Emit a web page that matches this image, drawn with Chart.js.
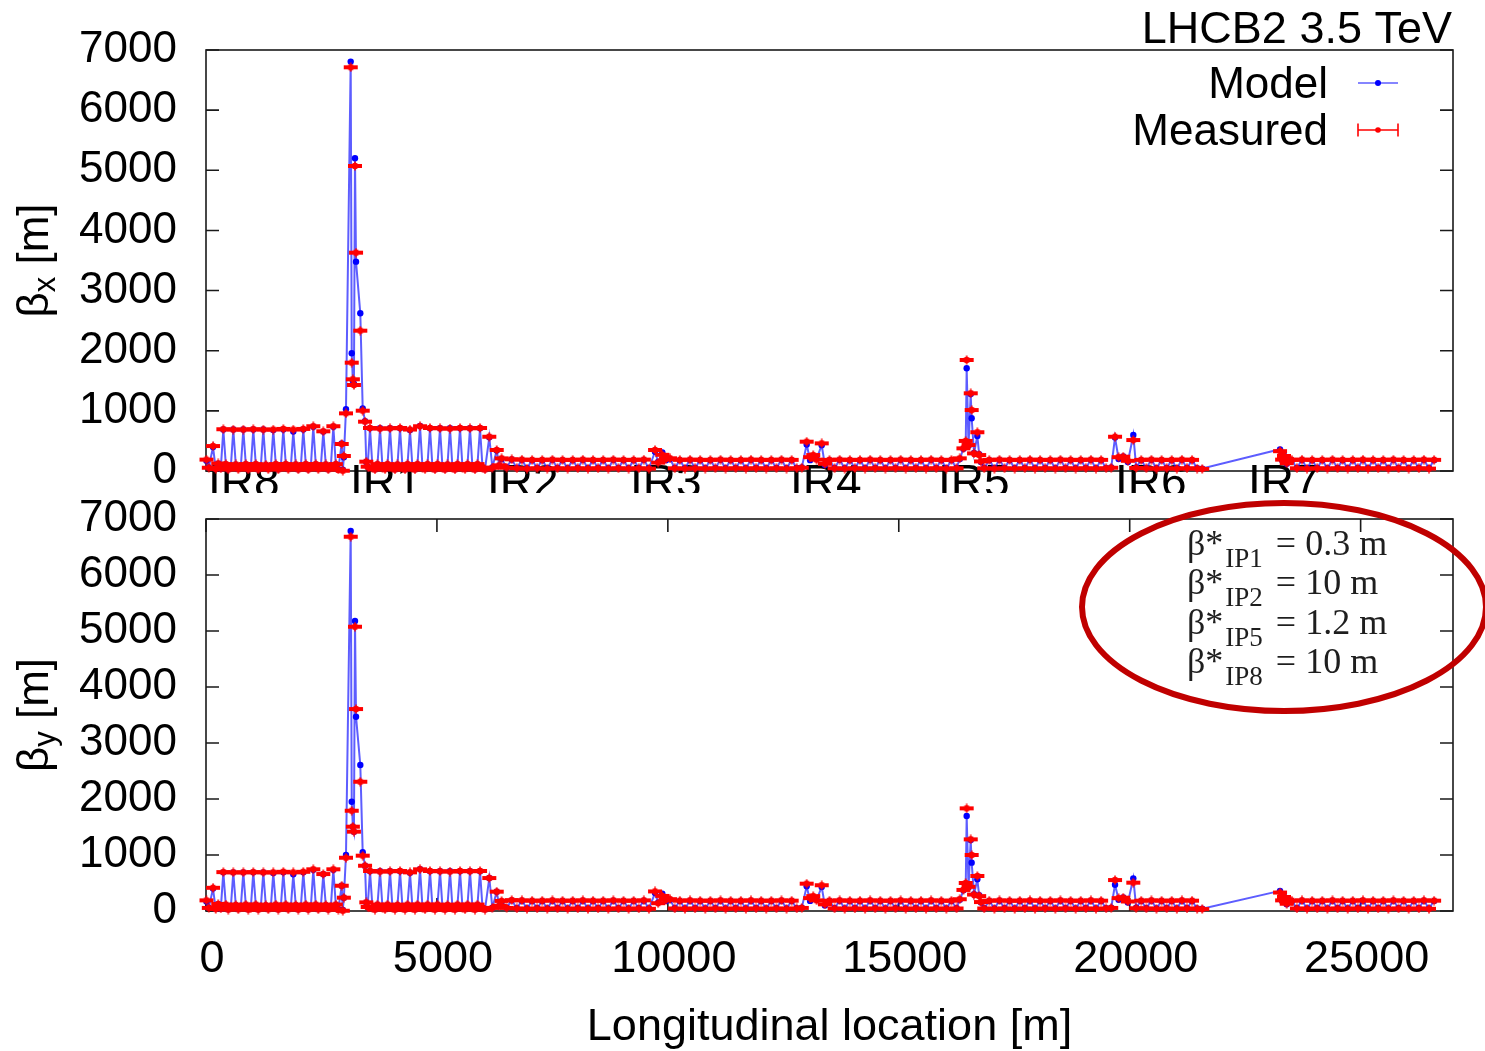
<!DOCTYPE html>
<html><head><meta charset="utf-8">
<script src="https://cdn.jsdelivr.net/npm/chart.js@4.4.0/dist/chart.umd.min.js"></script>
<style>
html,body{margin:0;padding:0;background:#fff;width:1485px;height:1051px;overflow:hidden}
canvas{position:absolute;left:0}
#top{top:0}#bot{top:493px}
</style></head><body>
<canvas id="top" width="1485" height="493"></canvas>
<canvas id="bot" width="1485" height="558"></canvas>
<script>
// ---------------- data ----------------
const titleText = 'LHCB2 3.5 TeV';
const legendLabels = ['Model', 'Measured'];
const xTitle = 'Longitudinal location [m]';
const xTicks = [0, 5000, 10000, 15000, 20000, 25000];
const yTicks = [0, 1000, 2000, 3000, 4000, 5000, 6000, 7000];
const irNames = ['IR8', 'IR1', 'IR2', 'IR3', 'IR4', 'IR5', 'IR6', 'IR7'];
const irPos = [43, 3118, 6086, 9180, 12645, 15850, 19683, 22563];
const ipNames = ['IP1', 'IP2', 'IP5', 'IP8'];
const ipBetaStar = ['0.3 m', '10 m', '1.2 m', '10 m'];

// BPM longitudinal positions [m]
const s = [
10,60,152,210,265,320,
375,429,483,537,591,645,699,753,808,862,916,970,
1024,1078,1132,1186,1241,1295,1349,1403,1457,1511,1565,1619,
1674,1728,1782,1836,1890,1944,1998,2052,2107,2161,2215,2269,
2323,2377,2431,2485,2540,2594,2648,2702,2757,2811,2865,
2938,2962,2985,3031,3133,3155,3180,3203,3226,3248,3341,3393,3443,3470,3500,
3551,3605,3659,3713,3768,3822,3876,3930,3984,4038,4092,4146,
4201,4255,4309,4363,4417,4471,4525,4579,4634,4688,4742,4796,
4850,4904,4958,5012,5067,5121,5175,5229,5283,5337,5391,5445,
5500,5554,5608,5662,5716,5770,5824,5878,5933,5987,6041,6134,6200,6294,6350,
6400,6510,6620,6730,6840,6950,7060,7170,7280,7390,
7500,7610,7720,7830,7940,8050,8160,8270,8380,8490,
8600,8710,8820,8930,9040,9150,9260,9370,9480,9590,
9722,9790,9880,9960,10046,
10150,10260,10370,10480,10590,10700,10810,10920,11030,11140,
11250,11360,11470,11580,11690,11800,11910,12020,12130,12240,
12350,12460,12570,12680,12790,12900,
13006,13080,13148,13220,13331,13400,
13500,13610,13720,13830,13940,14050,14160,14270,14380,14490,
14600,14710,14820,14930,15040,15150,15260,15370,15480,15590,
15700,15810,15920,16030,16140,16250,
16320,16400,16450,16470,16510,16557,16578,16630,16701,16740,16780,
16850,16960,17070,17180,17290,17400,17510,17620,17730,17840,
17950,18060,18170,18280,18390,18500,18610,18720,18830,18940,
19050,19160,19270,19380,19490,19600,
19682,19760,19860,19960,20078,20140,
20250,20360,20470,20580,20690,20800,20910,21020,21130,21240,21350,21460,21570,
23255,23300,23340,23400,
23510,23620,23730,23840,23950,24060,24170,24280,24390,24500,
24610,24720,24830,24940,25050,25160,25270,25380,25490,25600,
25710,25820,25930,26040,26150,26260,26370,26480,26590
];

const betxModel = [
170,60,400,40,120,40,
690,110,30,60,690,105,35,60,690,110,30,55,
690,110,30,60,690,100,35,60,680,110,30,60,
690,110,35,60,655,105,30,60,690,110,30,60,
735,110,35,60,655,105,30,60,735,110,30,
460,20,230,1026,6807,1957,1500,1450,5200,3481,2622,1042,830,150,70,
710,60,30,110,710,60,35,110,710,60,30,105,
710,60,30,110,682,55,30,110,748,60,35,110,
710,60,30,110,710,60,30,105,710,55,30,110,
710,60,35,110,710,60,30,110,710,60,30,560,60,340,90,
200,60,190,50,185,45,180,50,180,45,
185,50,180,45,180,50,185,45,180,50,
180,45,185,50,180,45,180,50,185,45,
320,150,310,180,200,
50,180,45,185,50,180,45,180,50,185,
45,180,50,180,45,185,50,180,45,180,
50,185,45,180,50,60,
440,180,250,200,430,100,
180,50,185,45,180,50,180,45,185,50,
180,45,180,50,185,45,180,50,180,45,
185,50,180,45,180,50,
200,370,480,1708,420,1280,876,300,582,280,150,
50,180,45,185,50,180,45,180,50,185,
45,180,50,180,45,185,50,180,45,180,
50,185,45,180,50,60,
555,200,240,150,599,60,
180,50,185,45,180,50,180,45,185,50,180,45,40,
360,180,260,120,
180,50,185,45,180,50,180,45,185,50,
180,45,180,50,185,45,180,50,180,45,
185,50,180,45,180,50,185,45,180
];

const betxMeas = [
190,55,415,35,125,45,
695,115,25,65,690,110,30,65,690,115,25,60,
695,115,25,65,690,105,30,65,690,115,25,65,
700,115,30,65,690,110,25,65,700,115,25,65,
745,115,30,65,660,110,25,65,745,115,25,
449,5,250,959,6713,1801,1525,1430,5072,3630,2333,1003,820,155,72,
715,55,25,115,705,55,30,115,710,55,25,110,
715,55,25,115,690,50,25,115,745,55,30,115,
715,55,25,115,710,55,25,110,705,50,25,115,
715,55,30,115,710,55,25,115,715,55,25,570,55,350,95,
210,55,195,45,190,40,185,45,185,40,
190,45,185,40,185,45,190,40,185,45,
185,40,190,45,185,40,185,45,190,40,
350,140,270,200,211,
45,185,40,190,45,185,40,185,45,190,
40,185,45,185,40,190,45,185,40,185,
45,190,40,185,45,55,
488,230,266,190,460,120,
185,45,190,40,185,45,185,40,190,45,
185,40,185,45,190,40,185,45,185,40,
190,45,185,40,185,45,
210,377,500,1846,432,1292,1014,294,645,266,160,
45,185,40,190,45,185,40,185,45,190,
40,185,45,185,40,190,45,185,40,185,
45,190,40,185,45,55,
570,230,238,170,515,50,
185,45,190,40,185,45,185,40,190,45,185,40,35,
330,190,250,130,
185,45,190,40,185,45,185,40,190,45,
185,40,185,45,190,40,185,45,185,40,
190,45,185,40,185,45,190,40,185
];

const betyModel = [
170,60,400,40,120,40,
690,110,30,60,690,105,35,60,690,110,30,55,
690,110,30,60,690,100,35,60,680,110,30,60,
690,110,35,60,655,105,30,60,690,110,30,60,
735,110,35,60,655,105,30,60,735,110,30,
452,20,238,1000,6786,1952,1506,1417,5179,3470,2607,1048,809,150,70,
710,60,30,110,710,60,35,110,710,60,30,105,
710,60,30,110,682,55,30,110,748,60,35,110,
710,60,30,110,710,60,30,105,710,55,30,110,
710,60,35,110,710,60,30,110,710,60,30,589,60,345,90,
170,60,190,50,185,45,180,50,180,45,
185,50,180,45,180,50,185,45,180,50,
180,45,185,50,180,45,180,50,185,45,
320,150,310,180,200,
50,180,45,185,50,180,45,180,50,185,
45,180,50,180,45,185,50,180,45,180,
50,185,45,180,50,60,
440,180,250,200,430,100,
180,50,185,45,180,50,180,45,185,50,
180,45,180,50,185,45,180,50,180,45,
185,50,180,45,180,50,
200,370,480,1696,420,1270,863,300,566,280,150,
50,180,45,185,50,180,45,180,50,185,
45,180,50,180,45,185,50,180,45,180,
50,185,45,180,50,60,
470,200,240,150,583,60,
180,50,185,45,180,50,180,45,185,50,180,45,40,
360,180,260,120,
180,50,185,45,180,50,180,45,185,50,
180,45,180,50,185,45,180,50,180,45,
185,50,180,45,180,50,185,45,180
];

const betyMeas = [
190,55,415,35,125,45,
695,115,25,65,690,110,30,65,690,115,25,60,
695,115,25,65,690,105,30,65,690,115,25,65,
700,115,30,65,690,110,25,65,700,115,25,65,
745,115,30,65,660,110,25,65,745,115,25,
452,5,238,952,6684,1791,1506,1417,5077,3607,2309,988,809,155,72,
715,55,25,115,705,55,30,115,710,55,25,110,
715,55,25,115,690,50,25,115,745,55,30,115,
715,55,25,115,710,55,25,110,705,50,25,115,
715,55,30,115,710,55,25,115,715,55,25,589,55,345,95,
180,55,195,45,190,40,185,45,185,40,
190,45,185,40,185,45,190,40,185,45,
185,40,190,45,185,40,185,45,190,40,
350,140,270,200,211,
45,185,40,190,45,185,40,185,45,190,
40,185,45,185,40,190,45,185,40,185,
45,190,40,185,45,55,
488,230,266,190,460,120,
185,45,190,40,185,45,185,40,190,45,
185,40,185,45,190,40,185,45,185,40,
190,45,185,40,185,45,
210,377,500,1833,432,1280,1000,294,625,266,160,
45,185,40,190,45,185,40,185,45,190,
40,185,45,185,40,190,45,185,40,185,
45,190,40,185,45,55,
553,230,238,170,506,50,
185,45,190,40,185,45,185,40,190,45,185,40,35,
330,190,250,130,
185,45,190,40,185,45,185,40,190,45,
185,40,185,45,190,40,185,45,185,40,
190,45,185,40,185,45,190,40,185
];

[betxModel, betxMeas, betyModel, betyMeas].forEach((a, i) => {
  if (a.length !== s.length) throw new Error('array ' + i + ' length ' + a.length + ' != ' + s.length);
});

// ---------------- drawing ----------------
const FONT = '"Liberation Sans", Arial, sans-serif';
const SERIF = '"Liberation Serif", "Times New Roman", serif';
Chart.defaults.font.family = FONT;
Chart.defaults.color = '#000';

const MODEL_LINE = 'rgba(30,30,255,0.72)';
const MODEL_DOT = '#0000ff';
const MEAS = '#ff0000';

function toPts(xs, ys) { return xs.map((x, i) => ({x: x, y: ys[i]})); }

function errMarker() {
  const c = document.createElement('canvas');
  c.width = 16; c.height = 10;
  const g = c.getContext('2d');
  g.fillStyle = MEAS;
  g.fillRect(1, 3, 14, 4);
  g.beginPath(); g.arc(8, 5, 3.3, 0, Math.PI * 2); g.fill();
  g.strokeStyle = MEAS; g.lineWidth = 1.5;
  g.beginPath(); g.moveTo(8, 0.5); g.lineTo(8, 9.5); g.stroke();
  return c;
}
const ERR = errMarker();

function datasets(model, meas) {
  return [
    {label: legendLabels[1], data: toPts(s, meas), showLine: false, pointStyle: ERR,
     pointRadius: 7, clip: false},
    {label: legendLabels[0], data: toPts(s, model), showLine: true, borderColor: MODEL_LINE,
     borderWidth: 2, tension: 0, pointRadius: 3.2, pointBackgroundColor: MODEL_DOT,
     pointBorderColor: MODEL_DOT, pointBorderWidth: 0, clip: false}
  ];
}

function scales(xHeight, showX) {
  return {
    x: {type: 'linear', min: 0, max: 27000, grid: {display: false, drawTicks: false}, border: {display: false},
        afterBuildTicks: sc => { sc.ticks = xTicks.map(v => ({value: v})); },
        ticks: {display: showX, font: {size: 45}, padding: 22, labelOffset: 6, color: '#000',
                maxRotation: 0, autoSkip: false, callback: v => String(v)},
        title: {display: showX, text: xTitle, font: {size: 45}, color: '#000', padding: {top: 0, bottom: -4}},
        afterFit: sc => { sc.height = xHeight; sc.paddingLeft = 0; sc.paddingRight = 0; }},
    y: {min: 0, max: 7000, grid: {display: false, drawTicks: false}, border: {display: false},
        afterBuildTicks: sc => { sc.ticks = yTicks.map(v => ({value: v})); },
        ticks: {font: {size: 44}, padding: 29, color: '#000', autoSkip: false, callback: v => String(v)},
        afterFit: sc => { sc.width = 206; sc.paddingTop = 0; sc.paddingBottom = 0; }}
  };
}

const frame = {
  id: 'frame',
  beforeDatasetsDraw(chart, args, opts) {
    const {ctx, chartArea: a} = chart;
    const sx = chart.scales.x, sy = chart.scales.y;
    ctx.save();
    ctx.strokeStyle = '#1a1a1a'; ctx.lineWidth = 1.6;
    ctx.strokeRect(a.left, a.top, a.right - a.left, a.bottom - a.top);
    ctx.beginPath();
    yTicks.forEach(v => {
      const y = sy.getPixelForValue(v);
      ctx.moveTo(a.left, y); ctx.lineTo(a.left + 13, y);
      ctx.moveTo(a.right, y); ctx.lineTo(a.right - 13, y);
    });
    (opts.xVals || []).forEach(v => {
      const x = sx.getPixelForValue(v);
      if (opts.bottom) { ctx.moveTo(x, a.bottom); ctx.lineTo(x, a.bottom - 13); }
      if (opts.top) { ctx.moveTo(x, a.top); ctx.lineTo(x, a.top + 13); }
    });
    ctx.stroke();
    ctx.restore();
  }
};

function drawYTitle(ctx, sub, cx, cy) {
  ctx.save();
  ctx.translate(cx, cy); ctx.rotate(-Math.PI / 2);
  ctx.textBaseline = 'middle'; ctx.textAlign = 'left'; ctx.fillStyle = '#000';
  const f1 = '44px ' + FONT, f2 = '31px ' + FONT;
  ctx.font = f1; const wB = ctx.measureText('\u03b2').width; const wR = ctx.measureText(' [m]').width;
  ctx.font = f2; const wS = ctx.measureText(sub).width;
  const x0 = -(wB + wS + wR) / 2;
  ctx.font = f1; ctx.fillText('\u03b2', x0, 0);
  ctx.font = f2; ctx.fillText(sub, x0 + wB, 10);
  ctx.font = f1; ctx.fillText(' [m]', x0 + wB + wS, 0);
  ctx.restore();
}

const topDecor = {
  id: 'topDecor',
  beforeDatasetsDraw(chart) {
    const {ctx} = chart; const sx = chart.scales.x;
    ctx.save();
    ctx.fillStyle = '#000'; ctx.font = '46px ' + FONT;
    ctx.textAlign = 'left'; ctx.textBaseline = 'alphabetic';
    irNames.forEach((n, i) => ctx.fillText(n, sx.getPixelForValue(irPos[i]), 497));
    ctx.restore();
  },
  afterDraw(chart) {
    const {ctx, chartArea: a} = chart;
    ctx.save();
    ctx.fillStyle = '#000'; ctx.textAlign = 'right'; ctx.textBaseline = 'alphabetic';
    ctx.font = '45px ' + FONT; ctx.fillText(titleText, 1452, 43);
    ctx.font = '44px ' + FONT;
    ctx.fillText(legendLabels[0], 1328, 98);
    ctx.fillText(legendLabels[1], 1328, 145);
    // model sample
    ctx.strokeStyle = MODEL_LINE; ctx.lineWidth = 1.6;
    ctx.beginPath(); ctx.moveTo(1358, 83); ctx.lineTo(1398, 83); ctx.stroke();
    ctx.fillStyle = MODEL_DOT; ctx.beginPath(); ctx.arc(1378, 83, 3, 0, Math.PI * 2); ctx.fill();
    // measured sample
    ctx.strokeStyle = MEAS; ctx.lineWidth = 1.6;
    ctx.beginPath();
    ctx.moveTo(1358, 130); ctx.lineTo(1398, 130);
    ctx.moveTo(1358, 123.5); ctx.lineTo(1358, 136.5);
    ctx.moveTo(1398, 123.5); ctx.lineTo(1398, 136.5);
    ctx.stroke();
    ctx.fillStyle = MEAS; ctx.beginPath(); ctx.arc(1378, 130, 2.8, 0, Math.PI * 2); ctx.fill();
    ctx.restore();
    drawYTitle(ctx, 'x', 36, (a.top + a.bottom) / 2);
  }
};

const botDecor = {
  id: 'botDecor',
  afterDraw(chart) {
    const {ctx, chartArea: a} = chart;
    drawYTitle(ctx, 'y', 36, (a.top + a.bottom) / 2);
    ctx.save();
    ctx.strokeStyle = '#c00000'; ctx.lineWidth = 6;
    ctx.beginPath(); ctx.ellipse(1284, 114, 202, 104, 0, 0, Math.PI * 2); ctx.stroke();
    ctx.fillStyle = '#1e1e1e'; ctx.textAlign = 'left'; ctx.textBaseline = 'alphabetic';
    ipNames.forEach((ip, i) => {
      const yb = 62 + i * 39.3;
      let x = 1187;
      ctx.font = '36px ' + SERIF; ctx.fillText('\u03b2*', x, yb);
      x += ctx.measureText('\u03b2*').width + 2;
      ctx.font = '27px ' + SERIF; ctx.fillText(ip, x, yb + 12);
      x += ctx.measureText(ip).width + 13;
      ctx.font = '36px ' + SERIF; ctx.fillText('= ' + ipBetaStar[i], x, yb);
    });
    ctx.restore();
  }
};

const common = {
  responsive: false, animation: false, devicePixelRatio: 1, events: [],
};

new Chart(document.getElementById('top'), {
  type: 'scatter',
  data: {datasets: datasets(betxModel, betxMeas)},
  options: Object.assign({}, common, {
    layout: {padding: {top: 50, right: 32, left: 0, bottom: 0}},
    scales: scales(22, false),
    plugins: {legend: {display: false}, tooltip: {enabled: false},
              frame: {xVals: [], bottom: true, top: false}}
  }),
  plugins: [frame, topDecor]
});

new Chart(document.getElementById('bot'), {
  type: 'scatter',
  data: {datasets: datasets(betyModel, betyMeas)},
  options: Object.assign({}, common, {
    layout: {padding: {top: 26, right: 32, left: 0, bottom: 0}},
    scales: scales(140, true),
    plugins: {legend: {display: false}, tooltip: {enabled: false},
              frame: {xVals: xTicks, bottom: true, top: true}}
  }),
  plugins: [frame, botDecor]
});
</script>
</body></html>
